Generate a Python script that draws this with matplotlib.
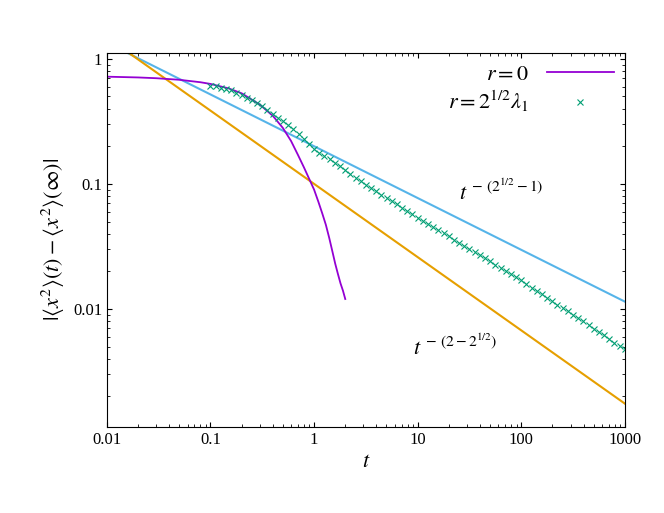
import numpy as np
import matplotlib.pyplot as plt

plt.rcParams['font.family'] = 'Liberation Serif'
plt.rcParams['mathtext.fontset'] = 'stix'

# r = 0 curve
t_r0 = [0.01, 0.02, 0.03, 0.05, 0.08, 0.1, 0.15, 0.2, 0.3, 0.4, 0.5, 0.6, 0.7, 0.8,
        1.0, 1.1, 1.2, 1.3, 1.4, 1.5, 1.6, 1.7, 1.8, 1.9, 2.0]
y_r0 = [0.72, 0.71, 0.70, 0.68, 0.65, 0.63, 0.58, 0.53, 0.43, 0.35, 0.28, 0.22, 0.17, 0.135,
        0.09, 0.072, 0.058, 0.047, 0.037, 0.029, 0.023, 0.019, 0.016, 0.014, 0.012]

# r = 2^(1/2) lambda_1 markers: log10 t and log10 y
logt_r1 = [-1.00, -0.95, -0.90, -0.85, -0.80, -0.75, -0.70, -0.65, -0.60, -0.55,
           -0.50, -0.45, -0.40, -0.35, -0.30, -0.25, -0.20, -0.15, -0.10, -0.05,
           0.00, 0.05, 0.10, 0.15, 0.20, 0.25, 0.30, 0.35, 0.40, 0.45,
           0.50, 0.55, 0.60, 0.65, 0.70, 0.75, 0.80, 0.85, 0.90, 0.95,
           1.00, 1.05, 1.10, 1.15, 1.20, 1.25, 1.30, 1.35, 1.40, 1.45,
           1.50, 1.55, 1.60, 1.65, 1.70, 1.75, 1.80, 1.85, 1.90, 1.95,
           2.00, 2.05, 2.10, 2.15, 2.20, 2.25, 2.30, 2.35, 2.40, 2.45,
           2.50, 2.55, 2.60, 2.65, 2.70, 2.75, 2.80, 2.85, 2.90, 2.95, 3.00]
logy_r1 = [-0.22, -0.22, -0.23, -0.24, -0.25, -0.27, -0.29, -0.31, -0.33, -0.355,
           -0.38, -0.41, -0.44, -0.47, -0.50, -0.53, -0.56, -0.60, -0.64, -0.68,
           -0.72, -0.75, -0.78, -0.80, -0.83, -0.86, -0.89, -0.92, -0.95, -0.98,
           -1.01, -1.03, -1.06, -1.085, -1.11, -1.135, -1.16, -1.19, -1.215, -1.24,
           -1.27, -1.295, -1.32, -1.345, -1.37, -1.395, -1.42, -1.445, -1.47, -1.495,
           -1.52, -1.545, -1.57, -1.595, -1.62, -1.645, -1.67, -1.695, -1.72, -1.745,
           -1.77, -1.80, -1.83, -1.855, -1.88, -1.91, -1.94, -1.965, -1.99, -2.02,
           -2.05, -2.075, -2.10, -2.13, -2.16, -2.185, -2.21, -2.24, -2.27, -2.295, -2.32]

# power laws A * t^(-p)
p_blue, A_blue = np.sqrt(2) - 1, 0.2
p_orange, A_orange = 2 - np.sqrt(2), 0.1

fig = plt.figure(figsize=(6.64, 5.13), dpi=100)
ax = fig.add_axes([0.161, 0.168, 0.780, 0.729])

tt = np.logspace(-2, 3, 200)
ax.plot(tt, A_blue * tt ** (-p_blue), color='#56b4e9', lw=1.5)
ax.plot(tt, A_orange * tt ** (-p_orange), color='#e69f00', lw=1.5)
ax.plot(t_r0, y_r0, color='#9400d3', lw=1.3, label=r'$r = 0$')
ax.plot(10 ** np.array(logt_r1), 10 ** np.array(logy_r1), 'x', color='#009e73',
        ms=4, mew=0.8, label=r'$r = 2^{1/2}\lambda_1$')

ax.set_xscale('log')
ax.set_yscale('log')
ax.set_xlim(0.01, 1000)
ax.set_ylim(0.00114, 1.117)
ax.set_xticks([0.01, 0.1, 1, 10, 100, 1000])
ax.set_xticklabels(['0.01', '0.1', '1', '10', '100', '1000'])
ax.set_yticks([0.01, 0.1, 1])
ax.set_yticklabels(['0.01', '0.1', '1'])
ax.tick_params(which='both', direction='in', top=True, right=True, labelsize=12)
ax.set_xlabel(r'$t$', fontsize=16)
ax.set_ylabel(r'$|\langle x^2\rangle(t) - \langle x^2\rangle(\infty)|$', fontsize=16)

ax.text(25, 0.075, r'$t^{\,-\,(2^{1/2}-1)}$', fontsize=16)
ax.text(9, 0.0043, r'$t^{\,-\,(2-2^{1/2})}$', fontsize=16)

ax.legend(loc='upper right', frameon=False, markerfirst=False, fontsize=16,
          handlelength=3, borderaxespad=0.1, labelspacing=0.2)

plt.savefig('out.png', dpi=100)
